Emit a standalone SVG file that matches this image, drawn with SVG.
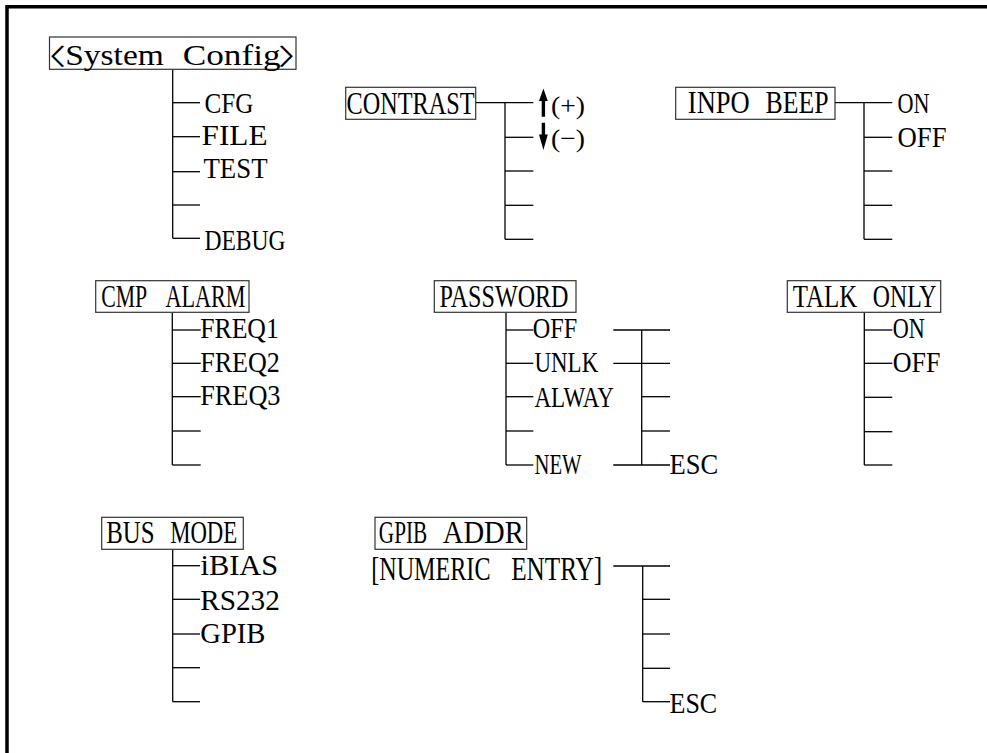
<svg xmlns="http://www.w3.org/2000/svg" width="987" height="753" viewBox="0 0 987 753">
<style>
text{font-family:"Liberation Serif","Noto Sans CJK SC",serif;fill:#000}
.b{font-size:32px}
.l{font-size:30px}
.s{font-size:29px}
.n{font-size:33px}
.p{font-size:26px}
.cjk{font-family:"Noto Sans CJK SC",sans-serif;font-size:23px}
.box{fill:#fff;stroke:#333;stroke-width:1.2}
#connectors line{stroke:#000;stroke-width:1.3}
.frame{fill:none;stroke:#000;stroke-width:3.5}
.arr{fill:#000}
</style>
<rect width="987" height="753" fill="#fff"/>
<path class="frame" d="M7 753V6.7H987"/>

<g id="connectors">
<!-- System Config -->
<line x1="172.7" y1="69.3" x2="172.7" y2="238.3"/>
<line x1="172.7" y1="102.7" x2="200" y2="102.7"/>
<line x1="172.7" y1="136.7" x2="200" y2="136.7"/>
<line x1="172.7" y1="171.7" x2="200" y2="171.7"/>
<line x1="172.7" y1="205" x2="200" y2="205"/>
<line x1="172.7" y1="238.3" x2="200" y2="238.3"/>
<!-- CONTRAST -->
<line x1="475.7" y1="102.7" x2="533.3" y2="102.7"/>
<line x1="505" y1="102.7" x2="505" y2="239.3"/>
<line x1="505" y1="137.3" x2="533.3" y2="137.3"/>
<line x1="505" y1="171" x2="533.3" y2="171"/>
<line x1="505" y1="205.3" x2="533.3" y2="205.3"/>
<line x1="505" y1="239.3" x2="533.3" y2="239.3"/>
<!-- INPO BEEP -->
<line x1="835" y1="102.7" x2="892.3" y2="102.7"/>
<line x1="864" y1="102.7" x2="864" y2="239.3"/>
<line x1="864" y1="137.3" x2="892.3" y2="137.3"/>
<line x1="864" y1="171" x2="892.3" y2="171"/>
<line x1="864" y1="205.3" x2="892.3" y2="205.3"/>
<line x1="864" y1="239.3" x2="892.3" y2="239.3"/>
<!-- CMP ALARM -->
<line x1="172.3" y1="312.3" x2="172.3" y2="465"/>
<line x1="172.3" y1="330" x2="200.7" y2="330"/>
<line x1="172.3" y1="363.3" x2="200.7" y2="363.3"/>
<line x1="172.3" y1="396.7" x2="200.7" y2="396.7"/>
<line x1="172.3" y1="431" x2="200.7" y2="431"/>
<line x1="172.3" y1="465" x2="200.7" y2="465"/>
<!-- PASSWORD -->
<line x1="506" y1="312.3" x2="506" y2="465"/>
<line x1="506" y1="330" x2="533.3" y2="330"/>
<line x1="506" y1="363.3" x2="533.3" y2="363.3"/>
<line x1="506" y1="396.7" x2="533.3" y2="396.7"/>
<line x1="506" y1="431" x2="533.3" y2="431"/>
<line x1="506" y1="465" x2="533.3" y2="465"/>
<line x1="641.7" y1="330" x2="641.7" y2="465"/>
<line x1="613.3" y1="330" x2="670" y2="330"/>
<line x1="613.3" y1="363.3" x2="670" y2="363.3"/>
<line x1="641.7" y1="396.7" x2="670" y2="396.7"/>
<line x1="641.7" y1="431" x2="670" y2="431"/>
<line x1="613.3" y1="465" x2="670" y2="465"/>
<!-- TALK ONLY -->
<line x1="864.3" y1="312.3" x2="864.3" y2="465"/>
<line x1="864.3" y1="330" x2="892.3" y2="330"/>
<line x1="864.3" y1="363.3" x2="892.3" y2="363.3"/>
<line x1="864.3" y1="397.3" x2="892.3" y2="397.3"/>
<line x1="864.3" y1="431.7" x2="892.3" y2="431.7"/>
<line x1="864.3" y1="465" x2="892.3" y2="465"/>
<!-- BUS MODE -->
<line x1="172.7" y1="549.3" x2="172.7" y2="701.7"/>
<line x1="172.7" y1="565.7" x2="200" y2="565.7"/>
<line x1="172.7" y1="599.3" x2="200" y2="599.3"/>
<line x1="172.7" y1="634" x2="200" y2="634"/>
<line x1="172.7" y1="667.7" x2="200" y2="667.7"/>
<line x1="172.7" y1="701.7" x2="200" y2="701.7"/>
<!-- GPIB ADDR -->
<line x1="613.3" y1="566" x2="670" y2="566"/>
<line x1="642.7" y1="566" x2="642.7" y2="701.7"/>
<line x1="642.7" y1="599.3" x2="670" y2="599.3"/>
<line x1="642.7" y1="634" x2="670" y2="634"/>
<line x1="642.7" y1="668.3" x2="670" y2="668.3"/>
<line x1="642.7" y1="701.7" x2="670" y2="701.7"/>
</g>

<g id="system-config">
<rect class="box" x="49.5" y="37" width="246.5" height="32.3"/>
<text class="s" y="64.5"><tspan class="cjk" x="30" textLength="36" lengthAdjust="spacingAndGlyphs">〈</tspan><tspan x="65.2" textLength="98.6" lengthAdjust="spacingAndGlyphs">System</tspan> <tspan x="182.8" textLength="97.7" lengthAdjust="spacingAndGlyphs">Config</tspan><tspan class="cjk" x="278" textLength="36" lengthAdjust="spacingAndGlyphs">〉</tspan></text>
</g>
<g id="cfg"><text class="l" x="204.5" y="113" textLength="49" lengthAdjust="spacingAndGlyphs">CFG</text></g>
<g id="file"><text class="l" x="201.5" y="145" textLength="66" lengthAdjust="spacingAndGlyphs">FILE</text></g>
<g id="test"><text class="l" x="203.5" y="178" textLength="64" lengthAdjust="spacingAndGlyphs">TEST</text></g>
<g id="debug"><text class="l" x="204.5" y="250" textLength="81" lengthAdjust="spacingAndGlyphs">DEBUG</text></g>

<g id="contrast">
<rect class="box" x="345.7" y="87.3" width="130" height="32"/>
<text class="b" x="346.5" y="114" textLength="128" lengthAdjust="spacingAndGlyphs">CONTRAST</text>
</g>
<g id="contrast-up">
<path class="arr" d="M543.4 88.5L547.8 101H545.1V116.7H541.7V101H539Z"/>
<text class="p" x="551" y="114.4" textLength="34" lengthAdjust="spacingAndGlyphs">(+)</text>
</g>
<g id="contrast-down">
<path class="arr" d="M543.4 150L547.8 134.5H545.1V122.7H541.7V134.5H539Z"/>
<text class="p" x="551" y="147" textLength="34" lengthAdjust="spacingAndGlyphs">(−)</text>
</g>

<g id="inpo-beep">
<rect class="box" x="675.7" y="87.3" width="159.3" height="32"/>
<text class="b" y="113.3" transform="scale(0.8 1)"><tspan x="859.75" textLength="77.5" lengthAdjust="spacingAndGlyphs">INPO</tspan> <tspan x="956.875" textLength="78.75" lengthAdjust="spacingAndGlyphs">BEEP</tspan></text>
</g>
<g id="beep-on"><text class="l" x="897.5" y="113.3" textLength="32" lengthAdjust="spacingAndGlyphs">ON</text></g>
<g id="beep-off"><text class="l" x="897.5" y="147" textLength="49" lengthAdjust="spacingAndGlyphs">OFF</text></g>

<g id="cmp-alarm">
<rect class="box" x="95.7" y="280.7" width="153.3" height="31.6"/>
<text class="b" y="306.7" transform="scale(0.68 1)"><tspan x="148.82" textLength="67.65" lengthAdjust="spacingAndGlyphs">CMP</tspan> <tspan x="243.38" textLength="117.65" lengthAdjust="spacingAndGlyphs">ALARM</tspan></text>
</g>
<g id="freq1"><text class="l" x="200.2" y="338" textLength="78.6" lengthAdjust="spacingAndGlyphs">FREQ1</text></g>
<g id="freq2"><text class="l" x="200.2" y="372" textLength="79.6" lengthAdjust="spacingAndGlyphs">FREQ2</text></g>
<g id="freq3"><text class="l" x="200.2" y="405" textLength="80.3" lengthAdjust="spacingAndGlyphs">FREQ3</text></g>

<g id="password">
<rect class="box" x="434.3" y="280.7" width="141.7" height="31.6"/>
<text class="b" x="439.5" y="306.7" textLength="129" lengthAdjust="spacingAndGlyphs">PASSWORD</text>
</g>
<g id="pw-off"><text class="l" x="532.8" y="338" textLength="44.4" lengthAdjust="spacingAndGlyphs">OFF</text></g>
<g id="pw-unlk"><text class="l" x="534.5" y="371.7" textLength="63.7" lengthAdjust="spacingAndGlyphs">UNLK</text></g>
<g id="pw-alway"><text class="l" x="534.5" y="406.7" textLength="79.3" lengthAdjust="spacingAndGlyphs">ALWAY</text></g>
<g id="pw-new"><text class="l" x="534.5" y="474" textLength="47" lengthAdjust="spacingAndGlyphs">NEW</text></g>
<g id="pw-esc"><text class="l" x="669.5" y="474" textLength="48.7" lengthAdjust="spacingAndGlyphs">ESC</text></g>

<g id="talk-only">
<rect class="box" x="787.3" y="280.7" width="153.4" height="31.6"/>
<text class="b" y="307" transform="scale(0.71 1)"><tspan x="1116.62" textLength="90.7" lengthAdjust="spacingAndGlyphs">TALK</tspan> <tspan x="1229.3" textLength="89.72" lengthAdjust="spacingAndGlyphs">ONLY</tspan></text>
</g>
<g id="talk-on"><text class="l" x="892.8" y="338.3" textLength="32" lengthAdjust="spacingAndGlyphs">ON</text></g>
<g id="talk-off"><text class="l" x="892.8" y="371.7" textLength="47.7" lengthAdjust="spacingAndGlyphs">OFF</text></g>

<g id="bus-mode">
<rect class="box" x="101.7" y="517.3" width="141.6" height="32"/>
<text class="b" y="543.3" transform="scale(0.71 1)"><tspan x="149.58" textLength="68.03" lengthAdjust="spacingAndGlyphs">BUS</tspan> <tspan x="239.72" textLength="94.37" lengthAdjust="spacingAndGlyphs">MODE</tspan></text>
</g>
<g id="ibias"><text class="l" x="200.5" y="575" textLength="77.7" lengthAdjust="spacingAndGlyphs">iBIAS</text></g>
<g id="rs232"><text class="l" x="200.2" y="610" textLength="79.6" lengthAdjust="spacingAndGlyphs">RS232</text></g>
<g id="gpib"><text class="l" x="200.2" y="643.3" textLength="65.3" lengthAdjust="spacingAndGlyphs">GPIB</text></g>

<g id="gpib-addr">
<rect class="box" x="375" y="517.3" width="151.7" height="32"/>
<text class="b" y="543.3" transform="scale(0.66 1)"><tspan x="573.94" textLength="73.33" lengthAdjust="spacingAndGlyphs">GPIB</tspan> <tspan x="670.91" textLength="122.73" lengthAdjust="spacingAndGlyphs">ADDR</tspan></text>
</g>
<g id="numeric-entry"><text class="n" y="580" transform="scale(0.73 1)"><tspan x="508.49" textLength="163.42" lengthAdjust="spacingAndGlyphs">[NUMERIC</tspan> <tspan x="700.27" textLength="124.66" lengthAdjust="spacingAndGlyphs">ENTRY]</tspan></text></g>
<g id="gpib-esc"><text class="l" x="669.5" y="713.3" textLength="47.7" lengthAdjust="spacingAndGlyphs">ESC</text></g>
</svg>
